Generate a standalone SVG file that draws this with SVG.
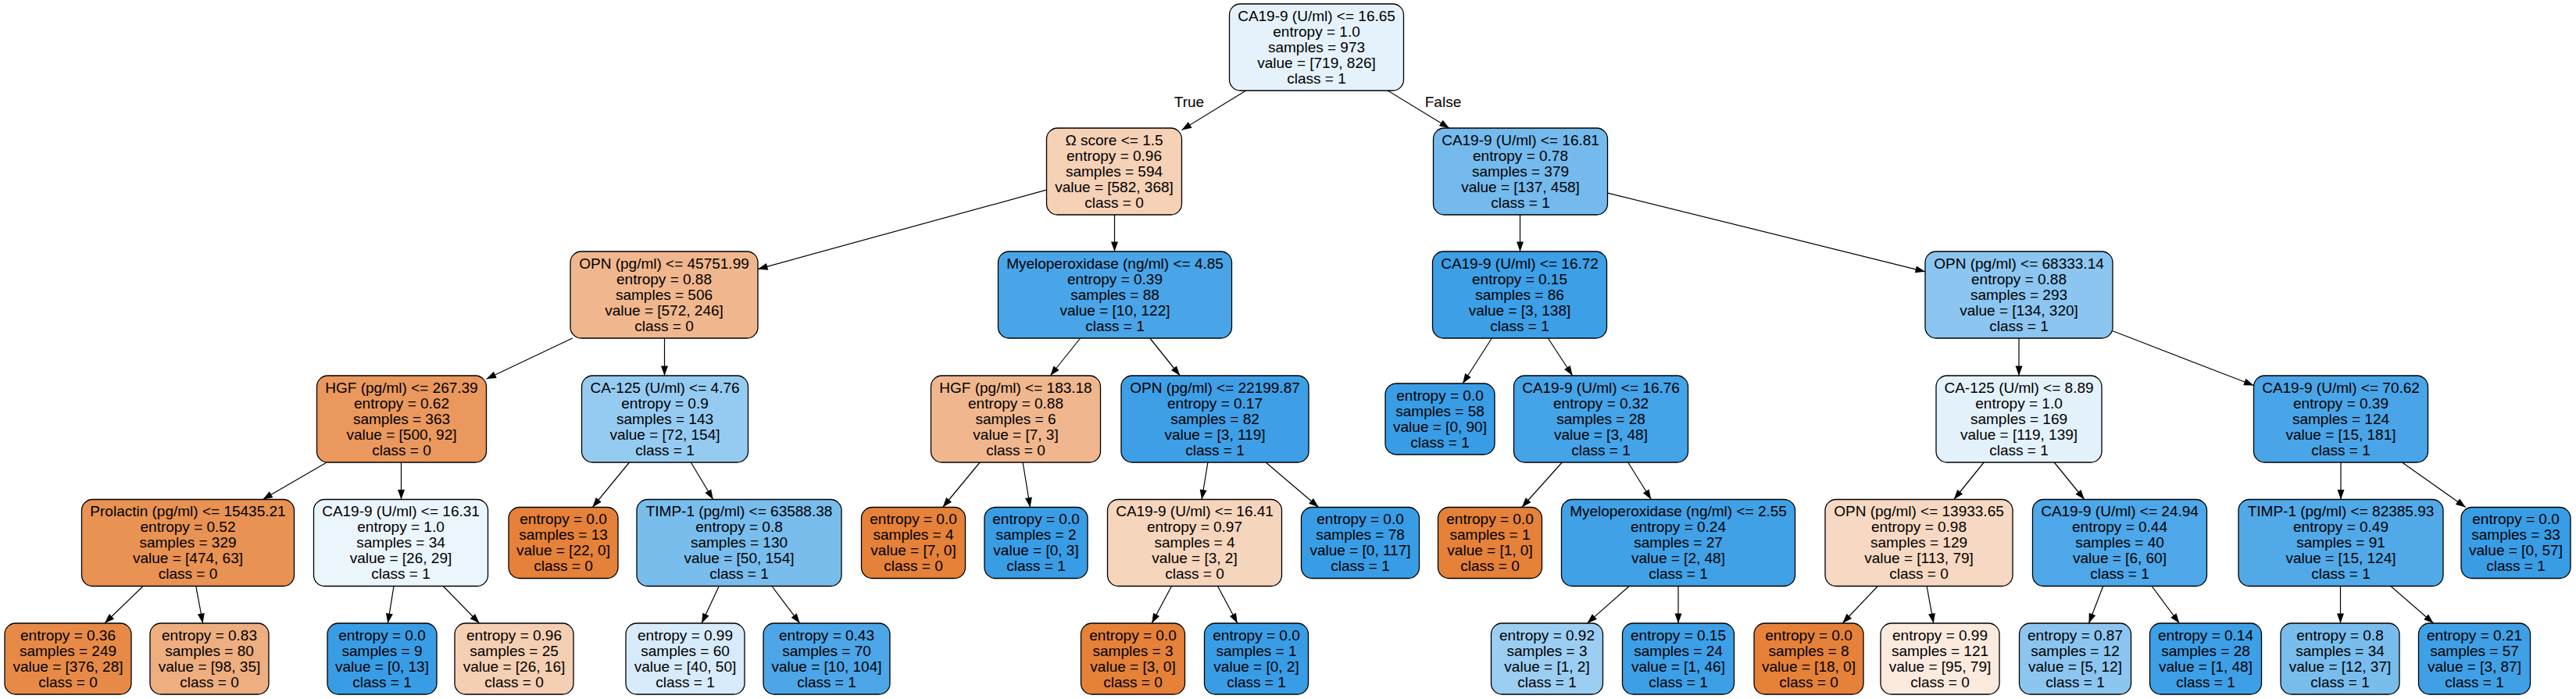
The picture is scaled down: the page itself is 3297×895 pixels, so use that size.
<svg xmlns="http://www.w3.org/2000/svg" width="3297" height="895" viewBox="0 0 3297 895">
<style>
.t{font-family:"Liberation Sans",Arial,sans-serif;font-size:19px;text-anchor:middle;fill:#000}
.b{stroke:#000;stroke-width:1.3}
.e line{stroke:#000;stroke-width:1.2;marker-end:url(#ah)}
</style>
<defs>
<marker id="ah" markerUnits="userSpaceOnUse" markerWidth="14" markerHeight="10" refX="12.5" refY="4.5" orient="auto" overflow="visible"><path d="M0,0 L12.5,4.5 L0,9 z" fill="#000"/></marker>
</defs>
<rect width="3297" height="895" fill="#fff"/>
<g id="edges" class="e">
<line x1="1594.6" y1="116" x2="1512.5" y2="166.4"/>
<line x1="1776.1" y1="116" x2="1854.9" y2="164"/>
<line x1="1339.5" y1="243.2" x2="970" y2="344.6"/>
<line x1="1426.5" y1="275" x2="1426.5" y2="322"/>
<line x1="1945.5" y1="275" x2="1945.5" y2="322"/>
<line x1="2057.5" y1="247.1" x2="2464" y2="347.8"/>
<line x1="732.7" y1="433" x2="622.5" y2="485.2"/>
<line x1="850.5" y1="433" x2="850.5" y2="481"/>
<line x1="1382.7" y1="433" x2="1344.3" y2="481"/>
<line x1="1471.7" y1="433" x2="1510.3" y2="481"/>
<line x1="1909.4" y1="433" x2="1872.2" y2="491"/>
<line x1="1981.3" y1="433" x2="2012.7" y2="481"/>
<line x1="2584" y1="433" x2="2584" y2="481"/>
<line x1="2704" y1="423.8" x2="2884.5" y2="493.5"/>
<line x1="418.2" y1="592" x2="336.3" y2="639.5"/>
<line x1="513.5" y1="592" x2="513.5" y2="639.5"/>
<line x1="805.5" y1="592" x2="758.3" y2="649.5"/>
<line x1="884.3" y1="592" x2="912.7" y2="639.5"/>
<line x1="1254.2" y1="592" x2="1206.6" y2="649.5"/>
<line x1="1309.1" y1="592" x2="1318.5" y2="649.5"/>
<line x1="1545.9" y1="592" x2="1538.1" y2="639.5"/>
<line x1="1620.1" y1="592" x2="1687.6" y2="649.5"/>
<line x1="1999.3" y1="592" x2="1947.8" y2="649.5"/>
<line x1="2083.7" y1="592" x2="2113.3" y2="639.5"/>
<line x1="2539.2" y1="592" x2="2500.8" y2="639.5"/>
<line x1="2629.2" y1="592" x2="2667.8" y2="639.5"/>
<line x1="2996" y1="592" x2="2996" y2="639.5"/>
<line x1="3074.4" y1="592" x2="3155.7" y2="649.5"/>
<line x1="183.1" y1="750.5" x2="134" y2="798"/>
<line x1="250.8" y1="750.5" x2="259.6" y2="798"/>
<line x1="504" y1="750.5" x2="496.4" y2="798"/>
<line x1="567.2" y1="750.5" x2="613.6" y2="798"/>
<line x1="920.2" y1="750.5" x2="898.1" y2="798"/>
<line x1="987.9" y1="750.5" x2="1023.7" y2="798"/>
<line x1="1499.5" y1="750.5" x2="1474.2" y2="798"/>
<line x1="1558.5" y1="750.5" x2="1583.8" y2="798"/>
<line x1="2085.2" y1="750.5" x2="2031.5" y2="798"/>
<line x1="2148" y1="750.5" x2="2148" y2="798"/>
<line x1="2403.3" y1="750.5" x2="2358.2" y2="798"/>
<line x1="2466.1" y1="750.5" x2="2474.7" y2="798"/>
<line x1="2691.7" y1="750.5" x2="2673.5" y2="798"/>
<line x1="2754.1" y1="750.5" x2="2789.3" y2="798"/>
<line x1="2995.5" y1="750.5" x2="2995.5" y2="798"/>
<line x1="3059.9" y1="750.5" x2="3114.6" y2="798"/>
<text class="t" x="1522" y="137">True</text>
<text class="t" x="1847" y="137">False</text>
</g>

<g id="n0" transform="translate(1685,60.5)"><rect class="b" x="-111.5" y="-55.5" width="223" height="111" rx="14" fill="#e5f2fc"/><text class="t"><tspan x="0" y="-34">CA19-9 (U/ml) &lt;= 16.65</tspan><tspan x="0" y="-14">entropy = 1.0</tspan><tspan x="0" y="6">samples = 973</tspan><tspan x="0" y="26">value = [719, 826]</tspan><tspan x="0" y="46">class = 1</tspan></text></g>
<g id="n1" transform="translate(1426,219.5)"><rect class="b" x="-86.5" y="-55.5" width="173" height="111" rx="14" fill="#f5d1b6"/><text class="t"><tspan x="0" y="-34">Ω score &lt;= 1.5</tspan><tspan x="0" y="-14">entropy = 0.96</tspan><tspan x="0" y="6">samples = 594</tspan><tspan x="0" y="26">value = [582, 368]</tspan><tspan x="0" y="46">class = 0</tspan></text></g>
<g id="n2" transform="translate(1946,219.5)"><rect class="b" x="-111.5" y="-55.5" width="223" height="111" rx="14" fill="#74baed"/><text class="t"><tspan x="0" y="-34">CA19-9 (U/ml) &lt;= 16.81</tspan><tspan x="0" y="-14">entropy = 0.78</tspan><tspan x="0" y="6">samples = 379</tspan><tspan x="0" y="26">value = [137, 458]</tspan><tspan x="0" y="46">class = 1</tspan></text></g>
<g id="n3" transform="translate(850,377.5)"><rect class="b" x="-120" y="-55.5" width="240" height="111" rx="14" fill="#f0b78e"/><text class="t"><tspan x="0" y="-34">OPN (pg/ml) &lt;= 45751.99</tspan><tspan x="0" y="-14">entropy = 0.88</tspan><tspan x="0" y="6">samples = 506</tspan><tspan x="0" y="26">value = [572, 246]</tspan><tspan x="0" y="46">class = 0</tspan></text></g>
<g id="n4" transform="translate(1427,377.5)"><rect class="b" x="-149.5" y="-55.5" width="299" height="111" rx="14" fill="#49a5e7"/><text class="t"><tspan x="0" y="-34">Myeloperoxidase (ng/ml) &lt;= 4.85</tspan><tspan x="0" y="-14">entropy = 0.39</tspan><tspan x="0" y="6">samples = 88</tspan><tspan x="0" y="26">value = [10, 122]</tspan><tspan x="0" y="46">class = 1</tspan></text></g>
<g id="n5" transform="translate(1945,377.5)"><rect class="b" x="-111.5" y="-55.5" width="223" height="111" rx="14" fill="#3d9fe6"/><text class="t"><tspan x="0" y="-34">CA19-9 (U/ml) &lt;= 16.72</tspan><tspan x="0" y="-14">entropy = 0.15</tspan><tspan x="0" y="6">samples = 86</tspan><tspan x="0" y="26">value = [3, 138]</tspan><tspan x="0" y="46">class = 1</tspan></text></g>
<g id="n6" transform="translate(2584,377.5)"><rect class="b" x="-120" y="-55.5" width="240" height="111" rx="14" fill="#8cc6f0"/><text class="t"><tspan x="0" y="-34">OPN (pg/ml) &lt;= 68333.14</tspan><tspan x="0" y="-14">entropy = 0.88</tspan><tspan x="0" y="6">samples = 293</tspan><tspan x="0" y="26">value = [134, 320]</tspan><tspan x="0" y="46">class = 1</tspan></text></g>
<g id="n7" transform="translate(514,536.5)"><rect class="b" x="-108.5" y="-55.5" width="217" height="111" rx="14" fill="#ea985d"/><text class="t"><tspan x="0" y="-34">HGF (pg/ml) &lt;= 267.39</tspan><tspan x="0" y="-14">entropy = 0.62</tspan><tspan x="0" y="6">samples = 363</tspan><tspan x="0" y="26">value = [500, 92]</tspan><tspan x="0" y="46">class = 0</tspan></text></g>
<g id="n8" transform="translate(851,536.5)"><rect class="b" x="-106.5" y="-55.5" width="213" height="111" rx="14" fill="#96cbf1"/><text class="t"><tspan x="0" y="-34">CA-125 (U/ml) &lt;= 4.76</tspan><tspan x="0" y="-14">entropy = 0.9</tspan><tspan x="0" y="6">samples = 143</tspan><tspan x="0" y="26">value = [72, 154]</tspan><tspan x="0" y="46">class = 1</tspan></text></g>
<g id="n9" transform="translate(1300,536.5)"><rect class="b" x="-108.5" y="-55.5" width="217" height="111" rx="14" fill="#f0b78e"/><text class="t"><tspan x="0" y="-34">HGF (pg/ml) &lt;= 183.18</tspan><tspan x="0" y="-14">entropy = 0.88</tspan><tspan x="0" y="6">samples = 6</tspan><tspan x="0" y="26">value = [7, 3]</tspan><tspan x="0" y="46">class = 0</tspan></text></g>
<g id="n10" transform="translate(1555,536.5)"><rect class="b" x="-120" y="-55.5" width="240" height="111" rx="14" fill="#3e9fe6"/><text class="t"><tspan x="0" y="-34">OPN (pg/ml) &lt;= 22199.87</tspan><tspan x="0" y="-14">entropy = 0.17</tspan><tspan x="0" y="6">samples = 82</tspan><tspan x="0" y="26">value = [3, 119]</tspan><tspan x="0" y="46">class = 1</tspan></text></g>
<g id="n11" transform="translate(1843,536.5)"><rect class="b" x="-70" y="-45.5" width="140" height="91" rx="14" fill="#399de5"/><text class="t"><tspan x="0" y="-24">entropy = 0.0</tspan><tspan x="0" y="-4">samples = 58</tspan><tspan x="0" y="16">value = [0, 90]</tspan><tspan x="0" y="36">class = 1</tspan></text></g>
<g id="n12" transform="translate(2049,536.5)"><rect class="b" x="-111.5" y="-55.5" width="223" height="111" rx="14" fill="#45a3e7"/><text class="t"><tspan x="0" y="-34">CA19-9 (U/ml) &lt;= 16.76</tspan><tspan x="0" y="-14">entropy = 0.32</tspan><tspan x="0" y="6">samples = 28</tspan><tspan x="0" y="26">value = [3, 48]</tspan><tspan x="0" y="46">class = 1</tspan></text></g>
<g id="n13" transform="translate(2584,536.5)"><rect class="b" x="-106" y="-55.5" width="212" height="111" rx="14" fill="#e3f1fb"/><text class="t"><tspan x="0" y="-34">CA-125 (U/ml) &lt;= 8.89</tspan><tspan x="0" y="-14">entropy = 1.0</tspan><tspan x="0" y="6">samples = 169</tspan><tspan x="0" y="26">value = [119, 139]</tspan><tspan x="0" y="46">class = 1</tspan></text></g>
<g id="n14" transform="translate(2996,536.5)"><rect class="b" x="-111.5" y="-55.5" width="223" height="111" rx="14" fill="#49a5e7"/><text class="t"><tspan x="0" y="-34">CA19-9 (U/ml) &lt;= 70.62</tspan><tspan x="0" y="-14">entropy = 0.39</tspan><tspan x="0" y="6">samples = 124</tspan><tspan x="0" y="26">value = [15, 181]</tspan><tspan x="0" y="46">class = 1</tspan></text></g>
<g id="n15" transform="translate(240.5,695)"><rect class="b" x="-136" y="-55.5" width="272" height="111" rx="14" fill="#e89253"/><text class="t"><tspan x="0" y="-34">Prolactin (pg/ml) &lt;= 15435.21</tspan><tspan x="0" y="-14">entropy = 0.52</tspan><tspan x="0" y="6">samples = 329</tspan><tspan x="0" y="26">value = [474, 63]</tspan><tspan x="0" y="46">class = 0</tspan></text></g>
<g id="n16" transform="translate(513,695)"><rect class="b" x="-111.5" y="-55.5" width="223" height="111" rx="14" fill="#ebf5fc"/><text class="t"><tspan x="0" y="-34">CA19-9 (U/ml) &lt;= 16.31</tspan><tspan x="0" y="-14">entropy = 1.0</tspan><tspan x="0" y="6">samples = 34</tspan><tspan x="0" y="26">value = [26, 29]</tspan><tspan x="0" y="46">class = 1</tspan></text></g>
<g id="n17" transform="translate(721,695)"><rect class="b" x="-70" y="-45.5" width="140" height="91" rx="14" fill="#e58139"/><text class="t"><tspan x="0" y="-24">entropy = 0.0</tspan><tspan x="0" y="-4">samples = 13</tspan><tspan x="0" y="16">value = [22, 0]</tspan><tspan x="0" y="36">class = 0</tspan></text></g>
<g id="n18" transform="translate(946,695)"><rect class="b" x="-131" y="-55.5" width="262" height="111" rx="14" fill="#79bded"/><text class="t"><tspan x="0" y="-34">TIMP-1 (pg/ml) &lt;= 63588.38</tspan><tspan x="0" y="-14">entropy = 0.8</tspan><tspan x="0" y="6">samples = 130</tspan><tspan x="0" y="26">value = [50, 154]</tspan><tspan x="0" y="46">class = 1</tspan></text></g>
<g id="n19" transform="translate(1169,695)"><rect class="b" x="-66.5" y="-45.5" width="133" height="91" rx="14" fill="#e58139"/><text class="t"><tspan x="0" y="-24">entropy = 0.0</tspan><tspan x="0" y="-4">samples = 4</tspan><tspan x="0" y="16">value = [7, 0]</tspan><tspan x="0" y="36">class = 0</tspan></text></g>
<g id="n20" transform="translate(1326,695)"><rect class="b" x="-66" y="-45.5" width="132" height="91" rx="14" fill="#399de5"/><text class="t"><tspan x="0" y="-24">entropy = 0.0</tspan><tspan x="0" y="-4">samples = 2</tspan><tspan x="0" y="16">value = [0, 3]</tspan><tspan x="0" y="36">class = 1</tspan></text></g>
<g id="n21" transform="translate(1529,695)"><rect class="b" x="-111.5" y="-55.5" width="223" height="111" rx="14" fill="#f6d5bd"/><text class="t"><tspan x="0" y="-34">CA19-9 (U/ml) &lt;= 16.41</tspan><tspan x="0" y="-14">entropy = 0.97</tspan><tspan x="0" y="6">samples = 4</tspan><tspan x="0" y="26">value = [3, 2]</tspan><tspan x="0" y="46">class = 0</tspan></text></g>
<g id="n22" transform="translate(1741,695)"><rect class="b" x="-75.5" y="-45.5" width="151" height="91" rx="14" fill="#399de5"/><text class="t"><tspan x="0" y="-24">entropy = 0.0</tspan><tspan x="0" y="-4">samples = 78</tspan><tspan x="0" y="16">value = [0, 117]</tspan><tspan x="0" y="36">class = 1</tspan></text></g>
<g id="n23" transform="translate(1907,695)"><rect class="b" x="-66.5" y="-45.5" width="133" height="91" rx="14" fill="#e58139"/><text class="t"><tspan x="0" y="-24">entropy = 0.0</tspan><tspan x="0" y="-4">samples = 1</tspan><tspan x="0" y="16">value = [1, 0]</tspan><tspan x="0" y="36">class = 0</tspan></text></g>
<g id="n24" transform="translate(2148,695)"><rect class="b" x="-149.5" y="-55.5" width="299" height="111" rx="14" fill="#41a1e6"/><text class="t"><tspan x="0" y="-34">Myeloperoxidase (ng/ml) &lt;= 2.55</tspan><tspan x="0" y="-14">entropy = 0.24</tspan><tspan x="0" y="6">samples = 27</tspan><tspan x="0" y="26">value = [2, 48]</tspan><tspan x="0" y="46">class = 1</tspan></text></g>
<g id="n25" transform="translate(2456,695)"><rect class="b" x="-120" y="-55.5" width="240" height="111" rx="14" fill="#f7d9c3"/><text class="t"><tspan x="0" y="-34">OPN (pg/ml) &lt;= 13933.65</tspan><tspan x="0" y="-14">entropy = 0.98</tspan><tspan x="0" y="6">samples = 129</tspan><tspan x="0" y="26">value = [113, 79]</tspan><tspan x="0" y="46">class = 0</tspan></text></g>
<g id="n26" transform="translate(2713,695)"><rect class="b" x="-111.5" y="-55.5" width="223" height="111" rx="14" fill="#4da7e8"/><text class="t"><tspan x="0" y="-34">CA19-9 (U/ml) &lt;= 24.94</tspan><tspan x="0" y="-14">entropy = 0.44</tspan><tspan x="0" y="6">samples = 40</tspan><tspan x="0" y="26">value = [6, 60]</tspan><tspan x="0" y="46">class = 1</tspan></text></g>
<g id="n27" transform="translate(2996,695)"><rect class="b" x="-131" y="-55.5" width="262" height="111" rx="14" fill="#51a9e8"/><text class="t"><tspan x="0" y="-34">TIMP-1 (pg/ml) &lt;= 82385.93</tspan><tspan x="0" y="-14">entropy = 0.49</tspan><tspan x="0" y="6">samples = 91</tspan><tspan x="0" y="26">value = [15, 124]</tspan><tspan x="0" y="46">class = 1</tspan></text></g>
<g id="n28" transform="translate(3220,695)"><rect class="b" x="-70" y="-45.5" width="140" height="91" rx="14" fill="#399de5"/><text class="t"><tspan x="0" y="-24">entropy = 0.0</tspan><tspan x="0" y="-4">samples = 33</tspan><tspan x="0" y="16">value = [0, 57]</tspan><tspan x="0" y="36">class = 1</tspan></text></g>

<g id="n29" transform="translate(87,843.5)"><rect class="b" x="-81" y="-45.5" width="162" height="91" rx="14" fill="#e78a48"/><text class="t"><tspan x="0" y="-24">entropy = 0.36</tspan><tspan x="0" y="-4">samples = 249</tspan><tspan x="0" y="16">value = [376, 28]</tspan><tspan x="0" y="36">class = 0</tspan></text></g>
<g id="n30" transform="translate(268,843.5)"><rect class="b" x="-76" y="-45.5" width="152" height="91" rx="14" fill="#eeae80"/><text class="t"><tspan x="0" y="-24">entropy = 0.83</tspan><tspan x="0" y="-4">samples = 80</tspan><tspan x="0" y="16">value = [98, 35]</tspan><tspan x="0" y="36">class = 0</tspan></text></g>
<g id="n31" transform="translate(489,843.5)"><rect class="b" x="-70" y="-45.5" width="140" height="91" rx="14" fill="#399de5"/><text class="t"><tspan x="0" y="-24">entropy = 0.0</tspan><tspan x="0" y="-4">samples = 9</tspan><tspan x="0" y="16">value = [0, 13]</tspan><tspan x="0" y="36">class = 1</tspan></text></g>
<g id="n32" transform="translate(658,843.5)"><rect class="b" x="-76" y="-45.5" width="152" height="91" rx="14" fill="#f5cfb3"/><text class="t"><tspan x="0" y="-24">entropy = 0.96</tspan><tspan x="0" y="-4">samples = 25</tspan><tspan x="0" y="16">value = [26, 16]</tspan><tspan x="0" y="36">class = 0</tspan></text></g>
<g id="n33" transform="translate(877,843.5)"><rect class="b" x="-76" y="-45.5" width="152" height="91" rx="14" fill="#d7ebfa"/><text class="t"><tspan x="0" y="-24">entropy = 0.99</tspan><tspan x="0" y="-4">samples = 60</tspan><tspan x="0" y="16">value = [40, 50]</tspan><tspan x="0" y="36">class = 1</tspan></text></g>
<g id="n34" transform="translate(1058,843.5)"><rect class="b" x="-81" y="-45.5" width="162" height="91" rx="14" fill="#4ca6e7"/><text class="t"><tspan x="0" y="-24">entropy = 0.43</tspan><tspan x="0" y="-4">samples = 70</tspan><tspan x="0" y="16">value = [10, 104]</tspan><tspan x="0" y="36">class = 1</tspan></text></g>
<g id="n35" transform="translate(1450,843.5)"><rect class="b" x="-66.5" y="-45.5" width="133" height="91" rx="14" fill="#e58139"/><text class="t"><tspan x="0" y="-24">entropy = 0.0</tspan><tspan x="0" y="-4">samples = 3</tspan><tspan x="0" y="16">value = [3, 0]</tspan><tspan x="0" y="36">class = 0</tspan></text></g>
<g id="n36" transform="translate(1608,843.5)"><rect class="b" x="-66.5" y="-45.5" width="133" height="91" rx="14" fill="#399de5"/><text class="t"><tspan x="0" y="-24">entropy = 0.0</tspan><tspan x="0" y="-4">samples = 1</tspan><tspan x="0" y="16">value = [0, 2]</tspan><tspan x="0" y="36">class = 1</tspan></text></g>
<g id="n37" transform="translate(1980,843.5)"><rect class="b" x="-71.5" y="-45.5" width="143" height="91" rx="14" fill="#9ccef2"/><text class="t"><tspan x="0" y="-24">entropy = 0.92</tspan><tspan x="0" y="-4">samples = 3</tspan><tspan x="0" y="16">value = [1, 2]</tspan><tspan x="0" y="36">class = 1</tspan></text></g>
<g id="n38" transform="translate(2148,843.5)"><rect class="b" x="-71.5" y="-45.5" width="143" height="91" rx="14" fill="#3d9fe6"/><text class="t"><tspan x="0" y="-24">entropy = 0.15</tspan><tspan x="0" y="-4">samples = 24</tspan><tspan x="0" y="16">value = [1, 46]</tspan><tspan x="0" y="36">class = 1</tspan></text></g>
<g id="n39" transform="translate(2315,843.5)"><rect class="b" x="-70" y="-45.5" width="140" height="91" rx="14" fill="#e58139"/><text class="t"><tspan x="0" y="-24">entropy = 0.0</tspan><tspan x="0" y="-4">samples = 8</tspan><tspan x="0" y="16">value = [18, 0]</tspan><tspan x="0" y="36">class = 0</tspan></text></g>
<g id="n40" transform="translate(2483,843.5)"><rect class="b" x="-76" y="-45.5" width="152" height="91" rx="14" fill="#fbeade"/><text class="t"><tspan x="0" y="-24">entropy = 0.99</tspan><tspan x="0" y="-4">samples = 121</tspan><tspan x="0" y="16">value = [95, 79]</tspan><tspan x="0" y="36">class = 0</tspan></text></g>
<g id="n41" transform="translate(2656,843.5)"><rect class="b" x="-71.5" y="-45.5" width="143" height="91" rx="14" fill="#8cc6f0"/><text class="t"><tspan x="0" y="-24">entropy = 0.87</tspan><tspan x="0" y="-4">samples = 12</tspan><tspan x="0" y="16">value = [5, 12]</tspan><tspan x="0" y="36">class = 1</tspan></text></g>
<g id="n42" transform="translate(2823,843.5)"><rect class="b" x="-71.5" y="-45.5" width="143" height="91" rx="14" fill="#3d9fe6"/><text class="t"><tspan x="0" y="-24">entropy = 0.14</tspan><tspan x="0" y="-4">samples = 28</tspan><tspan x="0" y="16">value = [1, 48]</tspan><tspan x="0" y="36">class = 1</tspan></text></g>
<g id="n43" transform="translate(2995,843.5)"><rect class="b" x="-76" y="-45.5" width="152" height="91" rx="14" fill="#79bded"/><text class="t"><tspan x="0" y="-24">entropy = 0.8</tspan><tspan x="0" y="-4">samples = 34</tspan><tspan x="0" y="16">value = [12, 37]</tspan><tspan x="0" y="36">class = 1</tspan></text></g>
<g id="n44" transform="translate(3167,843.5)"><rect class="b" x="-71.5" y="-45.5" width="143" height="91" rx="14" fill="#40a0e6"/><text class="t"><tspan x="0" y="-24">entropy = 0.21</tspan><tspan x="0" y="-4">samples = 57</tspan><tspan x="0" y="16">value = [3, 87]</tspan><tspan x="0" y="36">class = 1</tspan></text></g>
</svg>
